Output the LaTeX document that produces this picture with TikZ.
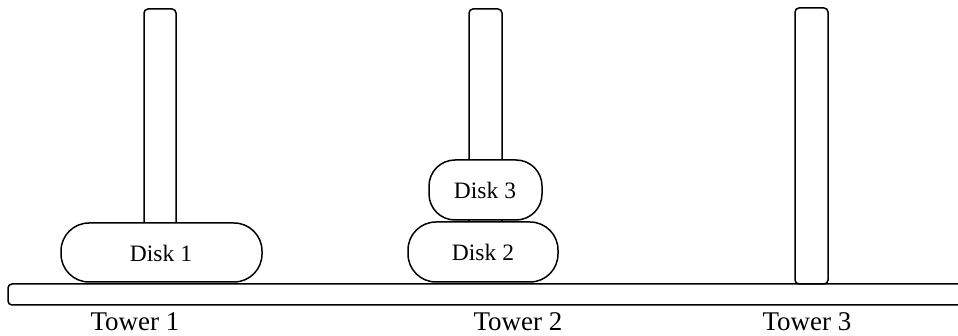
\documentclass[tikz,border=0pt]{standalone}
\usepackage{fontspec}
\setmainfont{Liberation Serif}
\begin{document}
\begin{tikzpicture}[x=1pt,y=-1pt,line width=1.5pt,
  pole/.style={draw,rounded corners=4pt,fill=white},
  disk/.style={draw,fill=white,rounded corners=28pt},
  disktext/.style={font=\fontsize{23.5}{28}\selectfont},
  towerlabel/.style={anchor=base,inner sep=0pt,font=\fontsize{27}{32}\selectfont}]
\useasboundingbox (0,0) rectangle (958,336);
\clip (0,0) rectangle (958,336);
% base
\draw[rounded corners=4pt] (975,284) -- (8,284) -- (8,305) -- (975,305);
\coordinate (base) at (483,294);
% poles
\draw[pole] (144,9) rectangle (176,240);
\draw[pole] (469,9) rectangle (502,240);
\draw[pole] (795,8) rectangle (828,284);
\node[inner sep=0pt] (pole1) at (160,100) {};
\node[inner sep=0pt] (pole2) at (485,100) {};
\node[inner sep=0pt] (pole3) at (811,100) {};
% disks
\draw[disk] (61,223) rectangle (262,282);
\node[disktext] (disk1) at (161,253) {Disk 1};
\draw[disk] (408,222) rectangle (558,282);
\node[disktext] (disk2) at (483,252) {Disk 2};
\draw[disk,rounded corners=26pt] (429,160) rectangle (542,220);
\node[disktext] (disk3) at (485,190) {Disk 3};
% labels
\node[towerlabel] (t1) at (135,331) {Tower 1};
\node[towerlabel] (t2) at (518,331) {Tower 2};
\node[towerlabel] (t3) at (807,331) {Tower 3};
\end{tikzpicture}
\end{document}
